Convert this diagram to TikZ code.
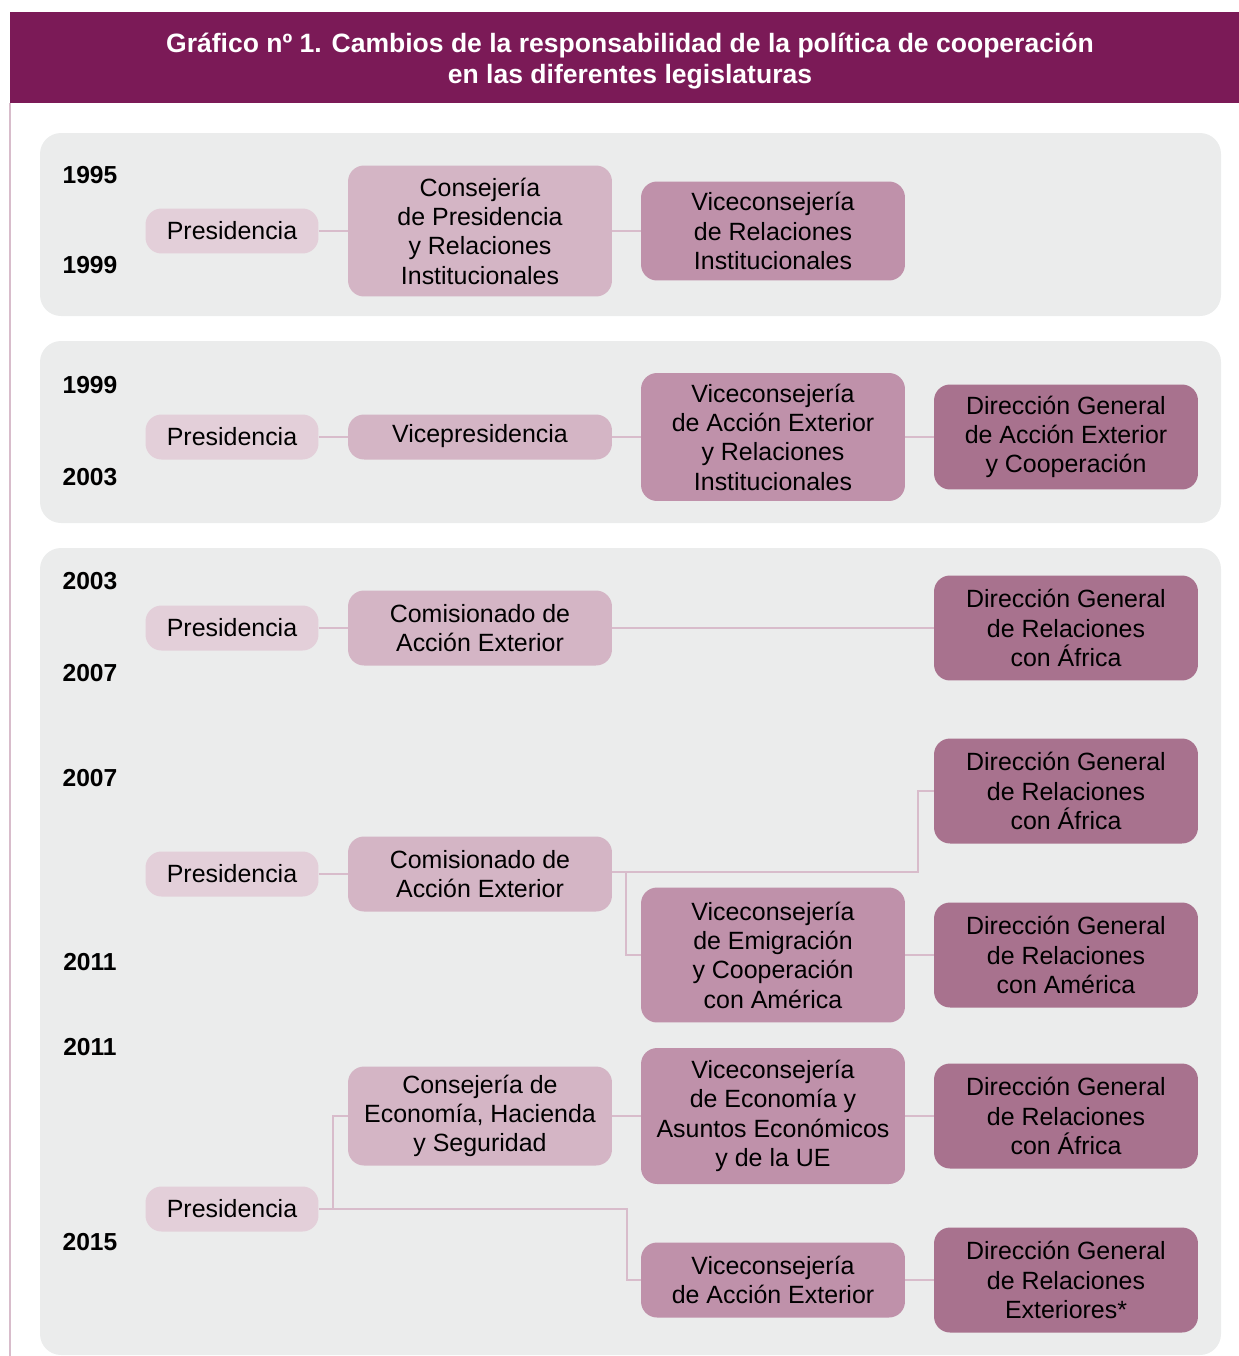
\documentclass[tikz,border=0pt]{standalone}
\definecolor{headerpurple}{RGB}{123,26,87}
\definecolor{panelgray}{RGB}{235,236,236}
\definecolor{presfill}{RGB}{227,207,217}
\definecolor{consfill}{RGB}{212,181,197}
\definecolor{vicefill}{RGB}{191,145,170}
\definecolor{dirfill}{RGB}{168,114,142}
\definecolor{linkpink}{RGB}{216,188,203}
\usepackage{fontspec}
\setmainfont{Liberation Sans}
\usepackage{tikz}
\usetikzlibrary{positioning, calc}

\begin{document}
\begin{tikzpicture}[x=0.02cm, y=-0.02cm,
    box/.style={rounded corners=0.32cm, inner sep=0pt, align=center, text=black,
                font=\fontsize{14.2}{16.7}\selectfont},
    pres/.style={box, fill=presfill, minimum width=3.46cm, minimum height=0.9cm},
    cons/.style={box, fill=consfill, minimum width=5.28cm},
    vice/.style={box, fill=vicefill, minimum width=5.28cm},
    dirg/.style={box, fill=dirfill, minimum width=5.28cm, minimum height=2.1cm},
    year/.style={font=\fontsize{14}{16}\selectfont\bfseries},
    link/.style={draw=linkpink, line width=1.2pt},
    panel/.style={fill=panelgray, rounded corners=0.42cm}]
                    \useasboundingbox (0,0) rectangle (1239,1356);
                    % Header
                    \fill[headerpurple] (10,12) rectangle (1239,103);
                    \draw[linkpink, line width=0.8pt] (10,103) -- (10,1356);
                    \node[text=white, align=center, font=\fontsize{15.1}{18}\selectfont\bfseries] (title) at (630,61)
                        {Gráfico nº 1. Cambios de la responsabilidad de la política de cooperación\\en las diferentes legislaturas};

                    % Panels
                    \fill[panel] (40,133) rectangle (1221,316);
                    \fill[panel] (40,341) rectangle (1221,523);
                    \fill[panel] (40,548) rectangle (1221,1355);

                    % 1995-1999
                    \node[year] (y1) at (90,175) {1995};
                    \node[year] (y2) at (90,265) {1999};
                    \node[pres] (pr1) at (232,231) {Presidencia};
                    \node[cons, minimum height=2.62cm] (cp1) at (480,231) {Consejería\\de Presidencia\\y Relaciones\\Institucionales};
                    \node[vice, minimum height=1.98cm] (vr1) at (773,231) {Viceconsejería\\de Relaciones\\Institucionales};
                    \draw[link] (pr1) -- (cp1);
                    \draw[link] (cp1) -- (vr1);

                    % 1999-2003
                    \node[year] (y3) at (90,385) {1999};
                    \node[year] (y4) at (90,477) {2003};
                    \node[pres] (pr2) at (232,437) {Presidencia};
                    \node[cons, minimum height=0.9cm] (vp2) at (480,437) {Vicepresidencia\strut};
                    \node[vice, minimum height=2.56cm] (va2) at (773,437) {Viceconsejería\\de Acción Exterior\\y Relaciones\\Institucionales};
                    \node[dirg] (dg2) at (1066,437) {Dirección General\\de Acción Exterior\\y Cooperación};
                    \draw[link] (pr2) -- (vp2);
                    \draw[link] (vp2) -- (va2);
                    \draw[link] (va2) -- (dg2);

                    % 2003-2007
                    \node[year] (y5) at (90,581) {2003};
                    \node[year] (y6) at (90,673) {2007};
                    \node[pres] (pr3) at (232,628) {Presidencia};
                    \node[cons, minimum height=1.5cm] (ca3) at (480,628) {Comisionado de\\Acción Exterior};
                    \node[dirg] (dg3) at (1066,628) {Dirección General\\de Relaciones\\con África};
                    \draw[link] (pr3) -- (ca3);
                    \draw[link] (ca3) -- (dg3);

                    % 2007-2011
                    \node[year] (y7) at (90,778) {2007};
                    \node[year] (y8) at (90,962) {2011};
                    \node[pres] (pr4) at (232,874) {Presidencia};
                    \node[cons, minimum height=1.5cm] (ca4) at (480,874) {Comisionado de\\Acción Exterior};
                    \node[dirg] (dga4) at (1066,791) {Dirección General\\de Relaciones\\con África};
                    \node[vice, minimum height=2.7cm] (ve4) at (773,955) {Viceconsejería\\de Emigración\\y Cooperación\\con América};
                    \node[dirg] (dgm4) at (1066,955) {Dirección General\\de Relaciones\\con América};
                    \coordinate (j1) at (918,872);
                    \coordinate (j2) at (626,872);
                    \draw[link] (pr4) -- (ca4);
                    \draw[link] (ca4.east |- j1) -- (j1) |- (dga4.west);
                    \draw[link] (j2) |- (ve4.west);
                    \draw[link] (ve4) -- (dgm4);

                    % 2011-2015
                    \node[year] (y9) at (90,1047) {2011};
                    \node[year] (y10) at (90,1242) {2015};
                    \node[pres] (pr5) at (232,1209) {Presidencia};
                    \node[cons, minimum height=1.98cm] (ce5) at (480,1116) {Consejería de\\Economía, Hacienda\\y Seguridad};
                    \node[vice, minimum height=2.72cm] (vu5) at (773,1116) {Viceconsejería\\de Economía y\\Asuntos Económicos\\y de la UE};
                    \node[dirg] (dgf5) at (1066,1116) {Dirección General\\de Relaciones\\con África};
                    \node[vice, minimum height=1.5cm] (vx5) at (773,1280) {Viceconsejería\\de Acción Exterior};
                    \node[dirg] (dgx5) at (1066,1280) {Dirección General\\de Relaciones\\Exteriores*};
                    \coordinate (j3) at (333,1209);
                    \coordinate (j4) at (627,1209);
                    \draw[link] (pr5) -- (j4) |- (vx5.west);
                    \draw[link] (j3) |- (ce5.west);
                    \draw[link] (ce5) -- (vu5);
                    \draw[link] (vu5) -- (dgf5);
                    \draw[link] (vx5) -- (dgx5);
                \end{tikzpicture}
\end{document}
